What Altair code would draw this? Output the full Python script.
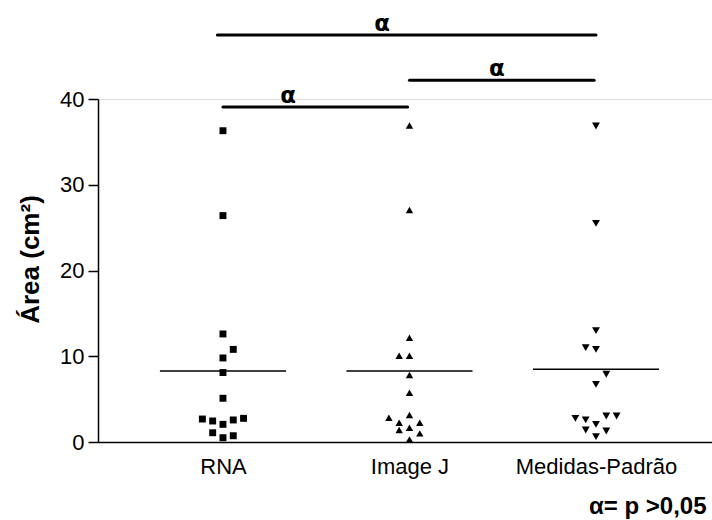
import json
import altair as alt
import pandas as pd

# ---- data ----
categories = ["RNA", "Image J", "Medidas-Padrão"]
shapes = ["square", "triangle-up", "triangle-down"]
marker_sizes = [48, 62, 62]

rna_values = [36.3, 26.4, 12.6, 10.8, 9.8, 8.1, 5.1, 2.68, 2.45, 2.06, 2.57, 2.76, 1.08, 0.73, 0.5]
rna_slots = [0, 0, 0, 1, 0, 0, 0, -2, -1, 0, 1, 2, -1, 1, 0]

imagej_values = [36.9, 27.05, 12.16, 10.06, 10.06, 7.81, 5.75, 3.15, 2.83, 2.25, 2.25, 1.67, 1.4, 1.01, 0.31]
imagej_slots = [0, 0, 0, -1, 0, 0, 0, 0, -2, -1, 1, 0, -1, 1, 0]

medidas_values = [36.85, 25.5, 12.98, 11.0, 10.8, 7.9, 6.73, 2.76, 2.57, 3.03, 3.03, 2.06, 1.4, 1.28, 0.62]
medidas_slots = [0, 0, 0, -1, 0, 1, 0, -2, -1, 1, 2, 0, -1, 1, 0]

mean_values = [8.28, 8.28, 8.48]

sig_start = [-0.03, 0.0, 1.0]
sig_end = [2.0, 0.99, 1.99]
sig_level = [47.46, 39.07, 42.2]
sig_label_pos = [0.853, 0.349, 1.469]
sig_labels = ["α", "α", "α"]

y_ticks = [0, 10, 20, 30, 40]
note = "α= p >0,05"

# ---- tables ----
SLOT = 0.0552
HALF = 0.338
rows = []
for gi, (vals, slots) in enumerate([(rna_values, rna_slots),
                                    (imagej_values, imagej_slots),
                                    (medidas_values, medidas_slots)]):
    for v, s in zip(vals, slots):
        rows.append({"grupo": categories[gi], "pos": gi + s * SLOT, "area": v})
points = pd.DataFrame(rows)

means = pd.DataFrame({
    "pos": [i - HALF for i in range(3)],
    "pos2": [i + HALF for i in range(3)],
    "area": mean_values,
})

sig = pd.DataFrame({"pos": sig_start, "pos2": sig_end, "area": sig_level})
sig_text = pd.DataFrame({"pos": sig_label_pos, "area": sig_level, "lab": sig_labels})

FONT = "Liberation Sans"
label_expr = json.dumps(categories, ensure_ascii=False) + "[round(datum.value)]"

xscale = alt.Scale(domain=[-0.67, 2.622], nice=False, zero=False)
yscale = alt.Scale(domain=[0, 40], nice=False, zero=True)

xaxis = alt.Axis(values=[0, 1, 2], labelExpr=label_expr, ticks=False, grid=False,
                 domainColor="black", domainWidth=1.5, labelFont=FONT, labelFontSize=22,
                 labelColor="black", labelPadding=14, labelAngle=0,
                 title=note, titleFont=FONT, titleFontSize=24, titleFontWeight="bold",
                 titleColor="black", titleX=608, titleY=71, titleAlign="right",
                 titleBaseline="alphabetic", titleAngle=0)
yaxis = alt.Axis(values=y_ticks, grid=False, domainColor="black", domainWidth=1.5,
                 tickColor="black", tickWidth=1.5, tickSize=10, labelFont=FONT,
                 labelFontSize=22, labelColor="black", labelPadding=4,
                 title="Área (cm²)", titleFont=FONT, titleFontSize=26,
                 titleFontWeight="bold", titleColor="black", titleX=-68, titleY=160,
                 titleAlign="center", titleBaseline="middle", titleAngle=270)

X = lambda: alt.X("pos:Q", scale=xscale, axis=xaxis)
Y = lambda: alt.Y("area:Q", scale=yscale, axis=yaxis)

pts = alt.Chart(points).mark_point(filled=True, color="black", opacity=1).encode(
    x=X(), y=Y(),
    shape=alt.Shape("grupo:N", scale=alt.Scale(domain=categories, range=shapes), legend=None),
    size=alt.Size("grupo:N", scale=alt.Scale(domain=categories, range=marker_sizes), legend=None),
)

mean_rules = alt.Chart(means).mark_rule(color="black", strokeWidth=1.5).encode(
    x=X(), x2="pos2:Q", y=Y())

sig_rules = alt.Chart(sig).mark_rule(color="black", strokeWidth=3, strokeCap="round").encode(
    x=X(), x2="pos2:Q", y=Y())

sig_lbl = alt.Chart(sig_text).mark_text(font="DejaVu Sans", fontWeight="bold", fontSize=23,
                                         color="black", baseline="alphabetic", dy=-4).encode(
    x=X(), y=Y(), text="lab:N")

chart = alt.layer(pts, mean_rules, sig_rules, sig_lbl).properties(
    width=614, height=343,
    autosize=alt.AutoSizeParams(type="none"),
    padding={"left": 98, "top": 99, "right": 0, "bottom": 78},
).configure_view(stroke=None).configure(background="white")

chart.save("out.html", embed_options={"renderer": "svg", "actions": False})
